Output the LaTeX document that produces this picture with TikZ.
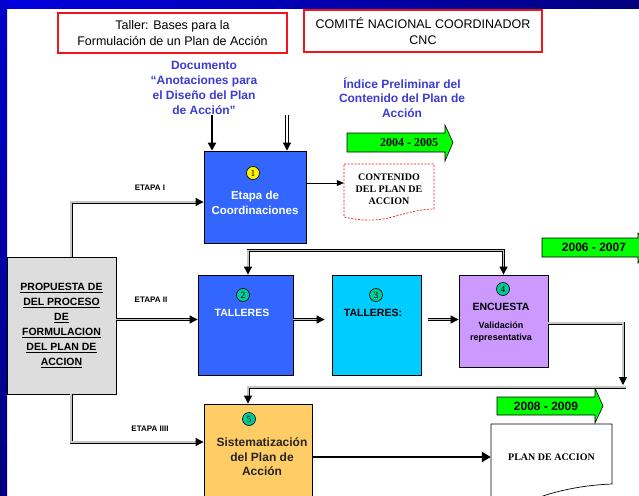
\documentclass[tikz,border=0pt]{standalone}
\usepackage{fontspec}
\setmainfont{Liberation Sans}
\newfontfamily\serif{Liberation Serif}
\usetikzlibrary{arrows.meta}
\definecolor{boxblue}{RGB}{51,102,255}
\definecolor{boxcyan}{RGB}{0,204,255}
\definecolor{boxpurple}{RGB}{204,153,255}
\definecolor{boxorange}{RGB}{255,204,102}
\definecolor{boxgray}{RGB}{221,221,221}
\definecolor{numgreen}{RGB}{0,204,153}
\definecolor{txtblue}{RGB}{60,60,210}
\definecolor{ygreen}{RGB}{0,255,0}
\definecolor{framered}{RGB}{240,20,30}
\begin{document}
\begin{tikzpicture}[x=1pt,y=-1pt,
  box/.style={draw=black, line width=0.8pt, inner sep=0pt},
  redbox/.style={draw=framered, line width=2.6pt, fill=white, inner sep=0pt, align=center, font=\fontsize{12.5}{15.5}\selectfont},
  num/.style={circle, draw=black, line width=0.6pt, inner sep=0pt, minimum size=13pt, font=\serif\fontsize{9.5}{9.5}\selectfont},
  dl/.style={draw=black, double=gray!45, double distance=1.2pt, line width=0.9pt},
  tip/.style={-{Triangle[length=8pt,width=8pt]}},
  lbl/.style={font=\bfseries\fontsize{8}{8}\selectfont},
  yr/.style={draw=black, line width=0.6pt, fill=ygreen},
  bluetxt/.style={text=txtblue, align=center, font=\bfseries\fontsize{12}{15}\selectfont},
  boxtxt/.style={align=center, font=\bfseries\fontsize{12}{14.5}\selectfont}
]
\useasboundingbox (0,0) rectangle (639,495);
\clip (0,0) rectangle (639,495);
\fill[white] (0,0) rectangle (639,495);
% frame
\shade[left color=blue!88!black, right color=blue!50!black] (0,0) rectangle (639,9);
\shade[top color=blue!80!black, bottom color=blue!50!black] (0,0) rectangle (7,495);

% title boxes
\node[redbox, minimum width=229pt, minimum height=40pt] (taller) at (172.5,33) {Taller: Bases para la\\Formulación de un Plan de Acción};
\node[redbox, minimum width=238pt, minimum height=42pt] (cnc) at (423,31) {COMITÉ NACIONAL COORDINADOR\\CNC};

% blue texts
\node[bluetxt] (docu) at (204,87.5) {Documento\\“Anotaciones para\\el Diseño del Plan\\de Acción”};
\node[bluetxt, font=\bfseries\fontsize{12}{14.5}\selectfont] (indice) at (402,97.5) {Índice Preliminar del\\Contenido del Plan de\\Acción};

% green year arrows
\draw[yr] (347,133) -- (445,133) -- (445,125) -- (453,142.5) -- (445,161) -- (445,152) -- (347,152) -- cycle;
\node[font=\serif\bfseries\fontsize{12}{12}\selectfont] (y1) at (409,143) {2004 - 2005};
\draw[yr] (542,238) -- (638,238) -- (638,233) -- (652,247.5) -- (638,263) -- (638,257) -- (542,257) -- cycle;
\node[font=\bfseries\fontsize{12}{12}\selectfont] (y2) at (594,247.5) {2006 - 2007};

% gray box
\node[box, fill=boxgray, minimum width=109pt, minimum height=137pt, align=center,
  font=\bfseries\fontsize{10.5}{15}\selectfont] (gray) at (61.5,325.5)
  {\underline{PROPUESTA DE}\\\underline{DEL PROCESO}\\\underline{DE}\\\underline{FORMULACION}\\\underline{DEL PLAN DE}\\\underline{ACCION}};

% box 1
\node[box, fill=boxblue, minimum width=102pt, minimum height=92pt] (b1) at (255,197) {};
\node[num, fill=yellow] (n1) at (253,173) {1};
\node[boxtxt, text=white, font=\bfseries\fontsize{11.5}{15}\selectfont] (t1) at (255,202.5) {Etapa de\\Coordinaciones};

% CONTENIDO document
\node[inner sep=0pt, minimum width=90pt, minimum height=45pt, align=center,
  font=\serif\bfseries\fontsize{10}{12}\selectfont] (cont) at (389,189) {CONTENIDO\\DEL PLAN DE\\ACCION};
\draw[framered, dash pattern=on 2pt off 1.5pt, line width=0.7pt]
  (344,164) -- (434,164) -- (434,209) .. controls (398,210) and (388,227) .. (344,217) -- cycle;

% box 2
\node[box, fill=boxblue, minimum width=95pt, minimum height=100pt] (b2) at (245.5,325) {};
\node[num, fill=numgreen] (n2) at (243,295) {2};
\node[boxtxt, text=white, font=\bfseries\fontsize{10.5}{12}\selectfont] (t2) at (242,313) {TALLERES};
% box 3
\node[box, fill=boxcyan, minimum width=89pt, minimum height=100pt] (b3) at (376.5,325) {};
\node[num, fill=numgreen] (n3) at (376,295) {3};
\node[boxtxt, font=\bfseries\fontsize{10.5}{12}\selectfont] (t3) at (373,313) {TALLERES:};
% box 4
\node[box, fill=boxpurple, minimum width=89pt, minimum height=92pt] (b4) at (503.5,321) {};
\node[num, fill=numgreen] (n4) at (503,289) {4};
\node[boxtxt, font=\bfseries\fontsize{10.5}{12}\selectfont] (t4) at (501,307) {ENCUESTA};
\node[boxtxt, font=\bfseries\fontsize{9}{12}\selectfont] (t4b) at (501,332) {Validación\\representativa};

% box 5
\node[box, fill=boxorange, minimum width=108pt, minimum height=96pt] (b5) at (258,452) {};
\node[num, fill=numgreen] (n5) at (249,419) {5};
\node[boxtxt, text=black!85, font=\bfseries\fontsize{12}{14.5}\selectfont] (t5) at (262,457) {Sistematización\\del Plan de\\Acción};

% PLAN DE ACCION document
\draw[black, line width=0.7pt, fill=white]
  (491,424) -- (612,424) -- (612,484) .. controls (585,485) and (560,490) .. (540,497) -- (491,500) -- cycle;
\node[inner sep=0pt, minimum width=121pt, minimum height=60pt,
  font=\serif\bfseries\fontsize{10}{12}\selectfont] (plan) at (551.5,457) {PLAN DE ACCION};

% year arrow 3
\draw[yr] (497,397) -- (595,397) -- (595,388) -- (603,406) -- (595,423) -- (595,415) -- (497,415) -- cycle;
\node[font=\bfseries\fontsize{12}{12}\selectfont] (y3) at (546,406) {2008 - 2009};

% etapa labels
\node[lbl] (e1) at (150,188) {ETAPA I};
\node[lbl] (e2) at (151,300) {ETAPA II};
\node[lbl] (e3) at (150,429) {ETAPA IIII};

% connectors
\coordinate (d1) at (212,115);
\coordinate (d2) at (287,115);
\draw[line width=2pt, tip] (d1) -- (d1 |- b1.north);
\draw[dl, double=white, line width=0.8pt, double distance=1.5pt, tip] (d2) -- (d2 |- b1.north);

\draw[dl, tip] ([xshift=9.5pt]gray.north) |- ([yshift=-5pt]b1.west);
\draw[dl, tip] ([yshift=6pt]gray.east) -- ([yshift=6pt]gray.east -| b2.west);
\draw[dl, tip] ([xshift=9.5pt]gray.south) |- ([yshift=10pt]b5.west);

\draw[line width=0.7pt, -{Triangle[length=7pt,width=6pt]}] ([yshift=14pt]b1.east) -- ([yshift=14pt]b1.east -| cont.west);

\draw[dl, tip, shorten >=7pt] ([yshift=5.5pt]b2.east) -- ([yshift=5.5pt]b2.east -| b3.west);
\draw[dl, tip, shorten <=7pt] ([yshift=5.5pt]b3.east) -- ([yshift=5.5pt]b3.east -| b4.west);

\draw[dl, {Triangle[length=8pt,width=8pt]}-{Triangle[length=8pt,width=8pt]}]
  ([xshift=2.5pt]b2.north) -- ++(0,-24) -| (b4.north);

\coordinate (c1) at (623,385);
\coordinate (c2) at (626,387);
\draw[dl, tip] ([yshift=-2pt]b4.east) -| (c1);
\draw[dl, tip] (c2) -| ([xshift=-10pt]b5.north);

\draw[line width=2.5pt, -{Triangle[length=9pt,width=10pt]}] ([yshift=-5pt]b5.east) -- (plan.west);
\end{tikzpicture}
\end{document}
